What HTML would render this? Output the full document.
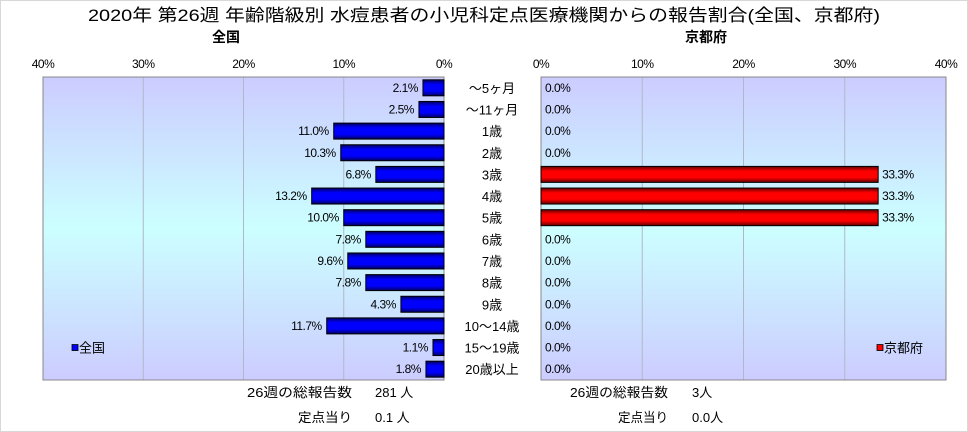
<!DOCTYPE html>
<html><head><meta charset="utf-8"><style>
body{margin:0;background:#fff;}
svg{display:block;font-family:"Liberation Sans","Noto Sans CJK JP",sans-serif;}
</style></head><body>
<svg id="c" width="968" height="432">
<defs>
<linearGradient id="bg" x1="0" y1="0" x2="0" y2="1">
<stop offset="0" stop-color="#ccccff"/><stop offset="0.5" stop-color="#ccffff"/><stop offset="1" stop-color="#ccccff"/>
</linearGradient>
<linearGradient id="gb" x1="0" y1="0" x2="0" y2="1">
<stop offset="0" stop-color="#000060"/><stop offset="0.3" stop-color="#0000ff"/><stop offset="0.7" stop-color="#0000ff"/><stop offset="1" stop-color="#000060"/>
</linearGradient>
<linearGradient id="gr" x1="0" y1="0" x2="0" y2="1">
<stop offset="0" stop-color="#600000"/><stop offset="0.3" stop-color="#ff0000"/><stop offset="0.7" stop-color="#ff0000"/><stop offset="1" stop-color="#600000"/>
</linearGradient>
</defs>
<rect x="0.5" y="0.5" width="967" height="431" fill="#fff" stroke="#d8d8d8"/>
<text x="88" y="21" font-size="17" textLength="792" lengthAdjust="spacingAndGlyphs">2020年 第26週 年齢階級別 水痘患者の小児科定点医療機関からの報告割合(全国、京都府)</text>
<text x="226" y="42" font-size="14" font-weight="bold" text-anchor="middle">全国</text>
<text x="706" y="42" font-size="14" font-weight="bold" text-anchor="middle">京都府</text>
<g id="L"></g><g id="R"></g><g id="cat"></g>
<text x="247" y="397" font-size="13" textLength="105" lengthAdjust="spacingAndGlyphs">26週の総報告数</text>
<text x="375" y="397" font-size="13">281 人</text>
<text x="298" y="422" font-size="13" textLength="54" lengthAdjust="spacingAndGlyphs">定点当り</text>
<text x="375" y="422" font-size="13">0.1 人</text>
<text x="570" y="397" font-size="13" textLength="98" lengthAdjust="spacingAndGlyphs">26週の総報告数</text>
<text x="692" y="397" font-size="13">3人</text>
<text x="618" y="422" font-size="13" textLength="50" lengthAdjust="spacingAndGlyphs">定点当り</text>
<text x="692" y="422" font-size="13">0.0人</text>
</svg>
<script>
const categories=["～5ヶ月","～11ヶ月","1歳","2歳","3歳","4歳","5歳","6歳","7歳","8歳","9歳","10～14歳","15～19歳","20歳以上"];
const nationalValues=[2.1,2.5,11.0,10.3,6.8,13.2,10.0,7.8,9.6,7.8,4.3,11.7,1.1,1.8];
const kyotoValues=[0,0,0,0,33.3,33.3,33.3,0,0,0,0,0,0,0];
const tickLabels=[0,10,20,30,40];
const NS="http://www.w3.org/2000/svg";
const top0=77,bot0=380,rowH=(bot0-top0)/categories.length,barH=16;
function mk(tag,attrs,parent,text){const e=document.createElementNS(NS,tag);for(const k in attrs)e.setAttribute(k,attrs[k]);if(text!==undefined)e.textContent=text;parent.appendChild(e);return e;}
function rowY(i){return top0+rowH*i+rowH/2;}
function panel(g,x0,x40,vals,fill,dir,legend,lx,name){
  const xs=v=>x0+(x40-x0)*v/40;
  const left=Math.min(x0,x40),w=Math.abs(x40-x0);
  const bg=mk('rect',{x:left,y:top0,width:w,height:bot0-top0,fill:'url(#bg)'},g);
  
  
  tickLabels.forEach(t=>{
    const x=xs(t);
    if(t>0&&t<40){const l=mk('line',{x1:x,x2:x,y1:top0,y2:bot0,stroke:'#b0b8c8'},g);
      
      }
    const tx=mk('text',{x:x,y:68,'font-size':12,'text-anchor':'middle','letter-spacing':'-0.5'},g,t+'%');
    
    
  });
  mk('rect',{x:left,y:top0,width:w,height:bot0-top0,fill:'none',stroke:'#888'},g);
  vals.forEach((v,i)=>{
    const y=rowY(i);
    if(v>0){const xa=Math.min(xs(0),xs(v)),bw=Math.abs(xs(v)-xs(0));
      const b=mk('rect',{x:xa,y:y-barH/2,width:bw,height:barH,fill:fill,stroke:'#000'},g);
      
      }
    const lbl=v.toFixed(1)+'%';
    const t= dir<0 ? mk('text',{x:xs(v)-5,y:y+4,'font-size':12,'text-anchor':'end','letter-spacing':'-0.5'},g,lbl)
                   : mk('text',{x:xs(v)+4,y:y+4,'font-size':12,'letter-spacing':'-0.5'},g,lbl);
    
    
  });
  const lg=mk('g',{},g);
  
  
  mk('rect',{x:lx,y:rowY(12)-3,width:6,height:6,fill:dir<0?'#0000ff':'#ff0000',stroke:'#000','stroke-width':0.8},lg);
  mk('text',{x:lx+7,y:rowY(12)+5,'font-size':13},lg,legend);
}
panel(document.getElementById('L'),444,43,nationalValues,'url(#gb)',-1,'全国',72,'national');
panel(document.getElementById('R'),541,946,kyotoValues,'url(#gr)',1,'京都府',877,'kyoto');
const cg=document.getElementById('cat');
categories.forEach((c,i)=>{
  const t=mk('text',{x:492,y:rowY(i)+5,'font-size':13,'text-anchor':'middle'},cg,c);
  
  
});
</script>
</body></html>
